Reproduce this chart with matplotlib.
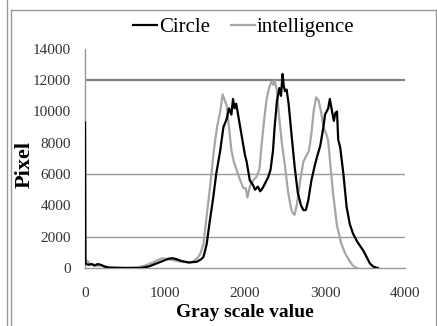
import matplotlib.pyplot as plt
from matplotlib.lines import Line2D

# gray scale histogram
circle_x = [0, 5, 15, 40, 80, 120, 160, 200, 240, 300, 500, 700, 800, 900, 1000, 1050, 1100, 1150,
            1200, 1300, 1400, 1450, 1480, 1520, 1560, 1600, 1640, 1690, 1730, 1770, 1800, 1830, 1850,
            1870, 1890, 1940, 2000, 2020, 2060, 2100, 2125, 2160, 2190, 2220, 2250, 2290, 2320, 2350,
            2370, 2400, 2430, 2450, 2470, 2485, 2500, 2520, 2545, 2580, 2620, 2660, 2700, 2730, 2760,
            2790, 2830, 2870, 2900, 2940, 2980, 3000, 3040, 3060, 3085, 3110, 3130, 3150, 3165, 3190,
            3230, 3270, 3310, 3350, 3400, 3440, 3480, 3520, 3560, 3600, 3640, 3660]
circle_y = [9300, 400, 250, 200, 250, 150, 250, 200, 100, 20, 0, 0, 100, 300, 500, 600, 620, 550,
            450, 350, 400, 550, 700, 1500, 3000, 4400, 6000, 7500, 9000, 9500, 10200, 9800, 10800,
            10200, 10500, 9000, 7200, 6800, 5600, 5300, 5000, 5200, 4900, 5100, 5400, 5800, 6300, 7500,
            9000, 10700, 11500, 11000, 12400, 11600, 11300, 11400, 10500, 8600, 6500, 4800, 4000, 3700,
            3700, 4300, 5600, 6500, 7100, 7800, 9000, 9800, 10200, 10800, 10100, 9400, 9900, 10000,
            8200, 7700, 6000, 3900, 2800, 2200, 1700, 1400, 1100, 700, 300, 100, 20, 0]

intel_x = [0, 5, 15, 40, 60, 100, 150, 200, 250, 300, 500, 650, 750, 850, 950, 1000, 1050, 1100,
           1200, 1300, 1350, 1400, 1440, 1480, 1520, 1550, 1580, 1610, 1650, 1690, 1720, 1740, 1770,
           1800, 1830, 1860, 1900, 1940, 1980, 2010, 2030, 2060, 2100, 2140, 2180, 2210, 2240, 2270,
           2300, 2330, 2355, 2370, 2400, 2420, 2460, 2500, 2540, 2580, 2600, 2620, 2650, 2690, 2730,
           2760, 2800, 2830, 2860, 2890, 2920, 2950, 2980, 3020, 3040, 3060, 3100, 3150, 3200, 3250,
           3300, 3340, 3380, 3400]
intel_y = [8800, 600, 500, 400, 200, 250, 150, 150, 100, 30, 0, 30, 150, 350, 600, 600, 550, 500,
           400, 350, 400, 600, 900, 1500, 3300, 4600, 6000, 7500, 9000, 10000, 11100, 10800, 10400,
           9000, 7500, 6800, 6200, 5600, 5100, 5100, 4500, 5200, 5600, 5800, 6300, 8000, 9500, 10800,
           11500, 11900, 11700, 12000, 11300, 10000, 8000, 6500, 4800, 3700, 3500, 3400, 4100, 5600, 6800,
           7100, 7500, 8600, 10100, 10900, 10700, 10000, 9000, 8500, 8100, 7000, 4800, 2700, 1600, 950,
           500, 200, 30, 0]

xticks = [0, 1000, 2000, 3000, 4000]
yticks = [0, 2000, 4000, 6000, 8000, 10000, 12000, 14000]
grid_vals = [2000, 6000, 12000]

plt.rcParams['font.family'] = ['Liberation Serif', 'DejaVu Serif']

fig = plt.figure(figsize=(4.37, 3.26), dpi=100)
ax = fig.add_axes([0.1945, 0.178, 0.7323, 0.672])

for g in grid_vals:
    ax.axhline(g, color='#808080' if g == 12000 else '#999999', lw=1.6 if g == 12000 else 1.0, zorder=1)

ax.plot(circle_x, circle_y, color='black', lw=1.6, label='Circle', zorder=3)
ax.plot(intel_x, intel_y, color='#a6a6a6', lw=1.6, label='intelligence', zorder=2)

ax.set_xlim(0, 4000)
ax.set_ylim(0, 14000)
ax.set_xticks(xticks)
ax.set_yticks(yticks)
ax.tick_params(length=0, labelsize=11, labelcolor='#333333')
ax.tick_params(axis='y', pad=10)
ax.tick_params(axis='x', pad=14)
for s in ['top', 'right']:
    ax.spines[s].set_visible(False)
for s in ['left', 'bottom']:
    ax.spines[s].set_color('#999999')
    ax.spines[s].set_linewidth(1.0)

fig.text(0.057, 0.494, 'Pixel', rotation=90, ha='center', va='center', fontsize=16, fontweight='bold')
fig.text(0.561, 0.040, 'Gray scale value', ha='center', va='center', fontsize=14, fontweight='bold')

ax.legend(loc='center', bbox_to_anchor=(0.558, 0.917), bbox_transform=fig.transFigure, ncol=2,
          frameon=False, fontsize=15, handlelength=1.15, handletextpad=0.08, columnspacing=1.0,
          borderpad=0.2)

# outer frame lines
W, H = 437, 326
fig.add_artist(Line2D([7 / W, 7 / W], [0, 1], color='#999999', lw=1))
fig.add_artist(Line2D([11 / W, 11 / W], [0, 1 - 10 / H], color='#999999', lw=1))
fig.add_artist(Line2D([11 / W, 436 / W], [1 - 10 / H, 1 - 10 / H], color='#999999', lw=1))
fig.add_artist(Line2D([436 / W, 436 / W], [0, 1 - 10 / H], color='#999999', lw=1))

fig.savefig('out.png', dpi=100)
